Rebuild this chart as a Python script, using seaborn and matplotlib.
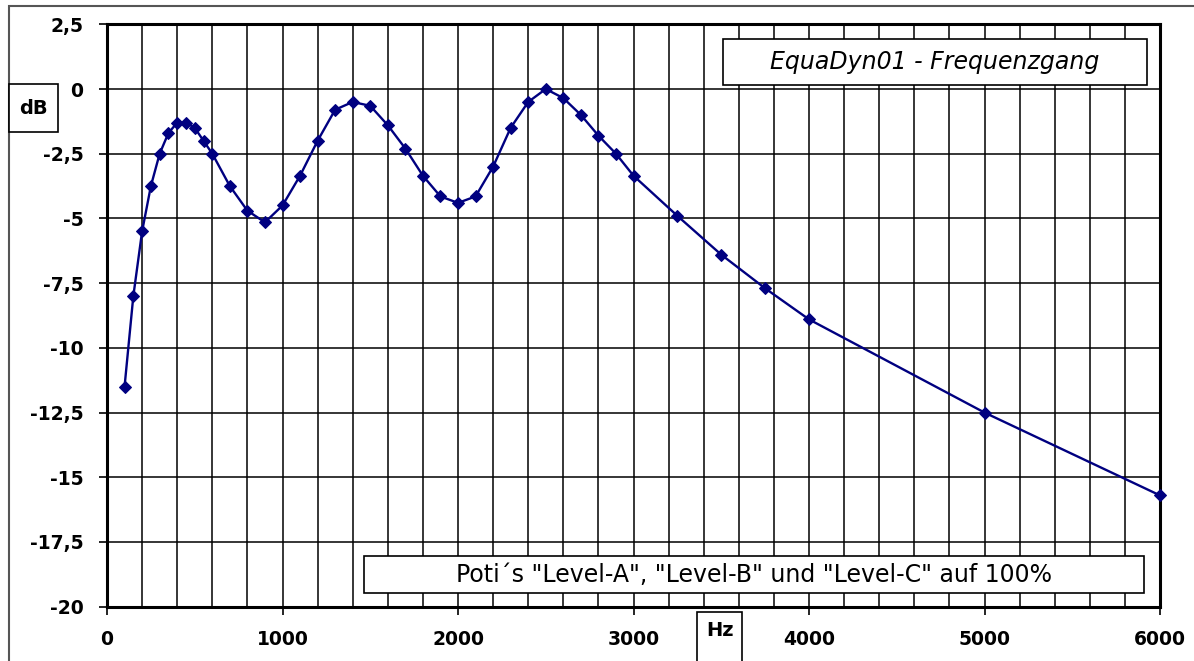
import matplotlib
matplotlib.use("Agg")
import matplotlib.pyplot as plt
import seaborn as sns
import numpy as np
from matplotlib.patches import Rectangle

# data (Hz / dB)
freq = [100, 150, 200, 250, 300, 350, 400, 450, 500, 550, 600, 700, 800, 900,
        1000, 1100, 1200, 1300, 1400, 1500, 1600, 1700, 1800, 1900, 2000, 2100,
        2200, 2300, 2400, 2500, 2600, 2700, 2800, 2900, 3000, 3250, 3500, 3750,
        4000, 5000, 6000]
level_db = [-11.5, -8.0, -5.5, -3.75, -2.5, -1.7, -1.3, -1.3, -1.5, -2.0, -2.5,
            -3.75, -4.7, -5.15, -4.5, -3.35, -2.0, -0.8, -0.5, -0.65, -1.4, -2.3,
            -3.35, -4.15, -4.4, -4.15, -3.0, -1.5, -0.5, 0.0, -0.35, -1.0, -1.8,
            -2.5, -3.35, -4.9, -6.4, -7.7, -8.9, -12.5, -15.7]

x_ticks = [0, 1000, 2000, 3000, 4000, 5000, 6000]
y_ticks = [2.5, 0, -2.5, -5, -7.5, -10, -12.5, -15, -17.5, -20]
y_tick_labels = ["2,5", "0", "-2,5", "-5", "-7,5", "-10", "-12,5", "-15", "-17,5", "-20"]

title_txt = "EquaDyn01 - Frequenzgang"
note_txt = 'Poti´s "Level-A", "Level-B" und "Level-C" auf 100%'

sns.set_theme(style="white")
plt.rcParams['font.family'] = ['DejaVu Sans']
plt.rcParams['text.color'] = 'black'
plt.rcParams['xtick.color'] = 'black'
plt.rcParams['ytick.color'] = 'black'

line_color = '#000080'
W, H = 1194, 661

fig = plt.figure(figsize=(W / 100, H / 100), dpi=100)
ax = fig.add_axes([107 / W, (H - 606.7) / H, (1160 - 107) / W, (606.7 - 24.3) / H])

sns.lineplot(x=freq, y=level_db, color=line_color, lw=1.7, marker='D', markersize=6.5,
             markeredgecolor=line_color, sort=False, ax=ax, clip_on=False, zorder=5)

ax.set_xlim(0, 6000)
ax.set_ylim(-20, 2.5)
ax.set_xticks(x_ticks)
ax.set_xticks(np.arange(0, 6001, 200), minor=True)
ax.set_yticks(y_ticks)
ax.set_yticklabels(y_tick_labels)
ax.set_xticklabels([str(t) for t in x_ticks])

ax.grid(which='both', axis='x', color='black', lw=1.1)
ax.grid(which='major', axis='y', color='black', lw=1.1)
ax.set_axisbelow(True)

ax.tick_params(axis='both', which='major', direction='out', length=6, width=1.2,
               color='black', labelcolor='black', labelsize=13.5, pad=11,
               left=True, bottom=True)
ax.tick_params(axis='both', which='minor', length=0)
for lab in ax.get_xticklabels() + ax.get_yticklabels():
    lab.set_fontweight('bold')

for s in ax.spines.values():
    s.set_color('black')
    s.set_linewidth(2.2)

# text boxes inside the plot
def box(x0, y0, x1, y1):
    r = Rectangle((x0 / W, 1 - y1 / H), (x1 - x0) / W, (y1 - y0) / H,
                  transform=fig.transFigure, facecolor='white', edgecolor='black',
                  lw=1.2, zorder=10, clip_on=False)
    fig.patches.append(r)

box(723, 39, 1147, 85)
fig.text((723 + 1147) / 2 / W, 1 - 62 / H, title_txt, style='italic', fontsize=17,
         ha='center', va='center', color='black', zorder=11)

box(364, 556, 1144, 593)
fig.text((364 + 1144) / 2 / W, 1 - 575 / H, note_txt, fontsize=17,
         ha='center', va='center', color='black', zorder=11)

# axis unit boxes
box(9, 84, 58, 132)
fig.text(33.5 / W, 1 - 108 / H, "dB", fontsize=14, fontweight='bold',
         ha='center', va='center', color='black', zorder=11)
box(697, 612, 742, 670)
fig.text(719.5 / W, 1 - 631 / H, "Hz", fontsize=14, fontweight='bold',
         ha='center', va='center', color='black', zorder=11)

# outer frame
fig.patches.append(Rectangle((9 / W, -0.05), 1.1, 1 - 6 / H + 0.05, transform=fig.transFigure,
                             facecolor='none', edgecolor='#555555', lw=1.5, zorder=0))

fig.savefig("out.png", dpi=100)
